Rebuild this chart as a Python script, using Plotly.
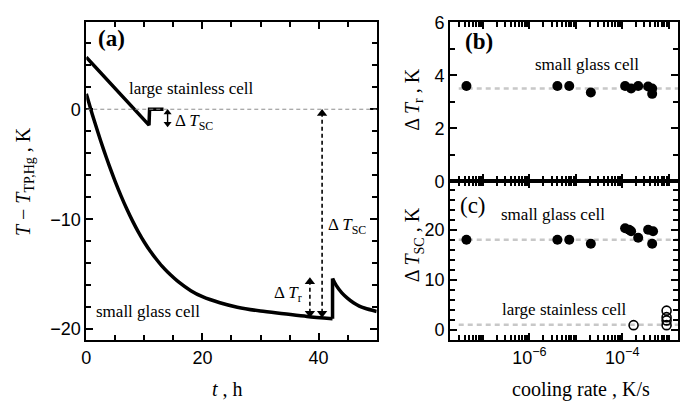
import plotly.graph_objects as go

# ---------------- data ----------------
# panel (a): temperature curves
stainless_t = [0.0, 10.8, 10.9, 13.3]
stainless_T = [4.73, -1.45, 0.0, 0.0]

glass_cool_t = [0, 1, 2, 3, 4, 5, 6, 7, 8, 9, 10, 11, 12, 13, 14, 16, 18, 20, 23, 26, 30, 34, 38, 42.4]
glass_cool_T = [1.4, -0.4, -2.1, -3.7, -5.2, -6.6, -7.9, -9.1, -10.2, -11.2, -12.1, -12.9, -13.6,
                -14.25, -14.8, -15.75, -16.5, -17.05, -17.6, -18.0, -18.35, -18.6, -18.85, -19.05]

glass_rec_t = [42.4, 43, 44, 45, 46, 47, 48, 50]
glass_rec_T = [-15.4, -16.0, -16.7, -17.2, -17.6, -17.9, -18.1, -18.4]

# panel (b): Delta T_r vs cooling rate (small glass cell)
rate_b = [4.4e-8, 4.0e-6, 7.2e-6, 2.1e-5, 1.15e-4, 1.55e-4, 2.2e-4, 3.6e-4, 4.4e-4, 4.4e-4]
dTr_b = [3.6, 3.6, 3.6, 3.35, 3.6, 3.5, 3.6, 3.58, 3.5, 3.3]

# panel (c): Delta T_SC vs cooling rate
rate_c_glass = [4.4e-8, 4.0e-6, 7.2e-6, 2.1e-5, 1.15e-4, 1.4e-4, 1.55e-4, 2.2e-4, 3.6e-4, 4.6e-4, 4.4e-4]
dTsc_c_glass = [18.0, 18.0, 18.0, 17.2, 20.3, 20.0, 19.7, 18.4, 20.0, 19.7, 17.2]
rate_c_steel = [1.75e-4, 9.0e-4, 9.0e-4, 9.0e-4, 9.0e-4]
dTsc_c_steel = [0.9, 3.8, 2.5, 1.85, 0.9]

# reference (mean) levels
mean_dTr = 3.5
mean_dTsc_glass = 18.0
mean_dTsc_steel = 1.0

# annotated differences in panel (a)
arrow_sc_t, arrow_sc_top, arrow_sc_bot = 40.6, 0.0, -18.9
arrow_r_t, arrow_r_top, arrow_r_bot = 38.5, -15.3, -18.9
arrow_st_t, arrow_st_top, arrow_st_bot = 14.0, 0.0, -1.6

# tick labels
t_tickvals = [0, 20, 40]
rate_tickvals = [1e-6, 1e-4]
rate_ticktext = ["10<sup>−6</sup>", "10<sup>−4</sup>"]

# ---------------- figure ----------------
SERIF = "Liberation Serif"
SANS = "Liberation Sans"
fig = go.Figure()

line_style = dict(color="black", width=3.5)
fig.add_trace(go.Scatter(x=stainless_t, y=stainless_T, mode="lines", line=line_style,
                         xaxis="x", yaxis="y"))
fig.add_trace(go.Scatter(x=glass_cool_t, y=glass_cool_T, mode="lines",
                         line=dict(color="black", width=3.5, shape="spline", smoothing=0.8),
                         xaxis="x", yaxis="y"))
fig.add_trace(go.Scatter(x=[glass_cool_t[-1], glass_rec_t[0]], y=[glass_cool_T[-1], glass_rec_T[0]],
                         mode="lines", line=line_style, xaxis="x", yaxis="y"))
fig.add_trace(go.Scatter(x=glass_rec_t, y=glass_rec_T, mode="lines",
                         line=dict(color="black", width=3.5, shape="spline", smoothing=0.6),
                         xaxis="x", yaxis="y"))

# panel (b)
fig.add_trace(go.Scatter(x=[3e-8, 1.6e-3], y=[mean_dTr, mean_dTr], mode="lines",
                         line=dict(color="#c8c8c8", width=2.5, dash="5px,4px"),
                         xaxis="x2", yaxis="y2"))
fig.add_trace(go.Scatter(x=rate_b, y=dTr_b, mode="markers",
                         marker=dict(color="black", size=10), xaxis="x2", yaxis="y2"))

# panel (c)
for lvl in (mean_dTsc_glass, mean_dTsc_steel):
    fig.add_trace(go.Scatter(x=[3e-8, 1.6e-3], y=[lvl, lvl], mode="lines",
                             line=dict(color="#c8c8c8", width=2.5, dash="5px,4px"),
                             xaxis="x3", yaxis="y3"))
fig.add_trace(go.Scatter(x=rate_c_glass, y=dTsc_c_glass, mode="markers",
                         marker=dict(color="black", size=10), xaxis="x3", yaxis="y3"))
fig.add_trace(go.Scatter(x=rate_c_steel, y=dTsc_c_steel, mode="markers",
                         marker=dict(symbol="circle-open", color="black", size=9,
                                     line=dict(width=1.6, color="black")),
                         xaxis="x3", yaxis="y3"))

# dashed zero line in (a)
fig.add_shape(type="line", xref="x", yref="y", x0=0, x1=50, y0=0, y1=0,
              line=dict(color="#8c8c8c", width=1, dash="4px,3px"))

# dashed double arrows in (a): shaft as dashed line, heads as triangle markers
KPX = 11.55  # approx pixels per kelvin on panel (a) y axis (for arrow head offset)
HEAD = 9
off = (HEAD / 2) / KPX
for (t0, ytop, ybot) in [(arrow_sc_t, arrow_sc_top, arrow_sc_bot), (arrow_r_t, arrow_r_top, arrow_r_bot)]:
    fig.add_shape(type="line", xref="x", yref="y", x0=t0, x1=t0, y0=ybot + off, y1=ytop - off,
                  line=dict(color="black", width=1.6, dash="4px,3px"))
    fig.add_trace(go.Scatter(x=[t0], y=[ytop - off], mode="markers",
                             marker=dict(symbol="triangle-up", size=HEAD, color="black"),
                             xaxis="x", yaxis="y"))
    fig.add_trace(go.Scatter(x=[t0], y=[ybot + off * 0.9], mode="markers",
                             marker=dict(symbol="triangle-down", size=HEAD, color="black"),
                             xaxis="x", yaxis="y"))

# small solid double arrow for stainless cell
HS = 7
offs = (HS / 2) / KPX
fig.add_shape(type="line", xref="x", yref="y", x0=arrow_st_t, x1=arrow_st_t,
              y0=arrow_st_bot + offs, y1=arrow_st_top - offs, line=dict(color="black", width=1.4))
fig.add_trace(go.Scatter(x=[arrow_st_t], y=[arrow_st_top - offs], mode="markers",
                         marker=dict(symbol="triangle-up", size=HS, color="black"),
                         xaxis="x", yaxis="y"))
fig.add_trace(go.Scatter(x=[arrow_st_t], y=[arrow_st_bot + offs * 0.9], mode="markers",
                         marker=dict(symbol="triangle-down", size=HS, color="black"),
                         xaxis="x", yaxis="y"))


def label(x, y, text, xref, yref, size=17, xanchor="center", bold=False):
    fig.add_annotation(x=x, y=y, xref=xref, yref=yref, text=text, showarrow=False,
                       xanchor=xanchor, yanchor="middle",
                       font=dict(family=SERIF, size=size, color="black",
                                 weight="bold" if bold else "normal"))


label(18.1, 1.9, "large stainless cell", "x", "y")
label(10.7, -18.35, "small glass cell", "x", "y")
label(15.0, -1.2, "Δ <i>T</i><sub>SC</sub>", "x", "y", xanchor="left")
label(41.2, -10.6, "Δ <i>T</i><sub>SC</sub>", "x", "y", xanchor="left")
label(37.5, -16.8, "Δ <i>T</i><sub>r</sub>", "x", "y", xanchor="right")
label(107 / 680, 1 - 30 / 412, "(a)", "paper", "paper", size=23, bold=True)
label(478 / 680, 1 - 33 / 412, "(b)", "paper", "paper", size=23, bold=True)
label(472 / 680, 1 - 205 / 412, "(c)", "paper", "paper", size=23)
label(587 / 680, 1 - 57 / 412, "small glass cell", "paper", "paper")
label(553 / 680, 1 - 215 / 412, "small glass cell", "paper", "paper")
label(564 / 680, 1 - 315 / 412, "large stainless cell", "paper", "paper")


def title(x, y, text, angle=0):
    fig.add_annotation(x=x / 680, y=1 - y / 412, xref="paper", yref="paper", text=text,
                       showarrow=False, textangle=angle, xanchor="center", yanchor="middle",
                       font=dict(family=SERIF, size=20, color="black"))


title(224, 398, "<i>t</i> , h")
title(581, 399, "cooling rate , K/s")
title(19, 180, "<i>T</i> − <i>T</i><sub>TP,Hg</sub> , K", -90)
title(412, 94, "Δ <i>T</i><sub>r</sub> , K", -90)
title(412, 247, "Δ <i>T</i><sub>SC</sub> , K", -90)

tickfont = dict(family=SANS, size=18, color="black")
axis_common = dict(showline=True, linewidth=2, linecolor="black", mirror="ticks",
                   ticks="inside", ticklen=7, tickwidth=2, tickcolor="black",
                   showgrid=False, zeroline=False, tickfont=tickfont)
minor_common = dict(ticks="inside", ticklen=5, tickwidth=1.6, tickcolor="black", showgrid=False)

xa_dom = [82 / 680, 375 / 680]
xb_dom = [449 / 680, 679 / 680]
top = 1 - 13 / 412
bottom = 1 - 347 / 412
mid = 1 - 180 / 412

log_minor = [m * 10.0 ** e for e in range(-8, -2) for m in range(2, 10)]
log_decades_other = [1e-7, 1e-5, 1e-3]

fig.update_layout(
    width=680, height=412, margin=dict(l=0, r=0, t=0, b=0),
    paper_bgcolor="white", plot_bgcolor="white", showlegend=False,
    xaxis=dict(axis_common, domain=xa_dom, anchor="y", range=[0, 50],
               tickmode="array", tickvals=t_tickvals,
               minor=dict(minor_common, tickmode="array",
                          tickvals=[5, 10, 15, 25, 30, 35, 45, 50])),
    yaxis=dict(axis_common, domain=[bottom, top], anchor="x", range=[-21, 7.9],
               tickmode="linear", tick0=0, dtick=10,
               minor=dict(minor_common, tickmode="linear", tick0=0, dtick=2)),
    xaxis2=dict(axis_common, domain=xb_dom, anchor="y2", type="log", range=[-7.71, -2.8],
                tickmode="array", tickvals=rate_tickvals + log_decades_other,
                showticklabels=False,
                minor=dict(minor_common, tickmode="array", tickvals=log_minor)),
    yaxis2=dict(axis_common, domain=[mid, top], anchor="x2", range=[0, 6],
                tickmode="linear", tick0=0, dtick=2,
                minor=dict(minor_common, tickmode="linear", tick0=0, dtick=1)),
    xaxis3=dict(axis_common, domain=xb_dom, anchor="y3", type="log", range=[-7.71, -2.8],
                tickmode="array", tickvals=rate_tickvals, ticktext=rate_ticktext,
                minor=dict(minor_common, tickmode="array", tickvals=log_minor + log_decades_other)),
    yaxis3=dict(axis_common, domain=[bottom, mid], anchor="x3", range=[-2.1, 29.7],
                tickmode="linear", tick0=0, dtick=10,
                minor=dict(minor_common, tickmode="linear", tick0=0, dtick=2)),
)

fig.write_html("out.html", config={"displayModeBar": False},
               post_script="document.body.style.margin='0';")
